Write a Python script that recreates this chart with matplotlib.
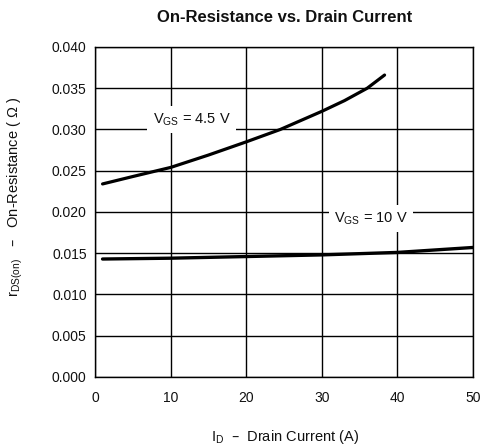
import matplotlib
matplotlib.use("Agg")
import matplotlib.pyplot as plt
import numpy as np

plt.rcParams['font.family'] = ['Liberation Sans', 'DejaVu Sans']
plt.rcParams['mathtext.default'] = 'regular'

# Data
id_45 = [1.0, 5.0, 10.0, 15.0, 20.0, 24.5, 30.0, 33.0, 36.0, 38.3]
r_45 = [0.0234, 0.0243, 0.0254, 0.0269, 0.0285, 0.0300, 0.0322, 0.0335, 0.0350, 0.0366]

id_10 = [1.0, 10.0, 20.0, 30.0, 40.0, 45.0, 50.0]
r_10 = [0.0143, 0.0144, 0.0146, 0.0148, 0.0151, 0.0154, 0.0157]

x_ticks = [0, 10, 20, 30, 40, 50]
y_ticks = [0.000, 0.005, 0.010, 0.015, 0.020, 0.025, 0.030, 0.035, 0.040]
y_ticklabels = ["0.000", "0.005", "0.010", "0.015", "0.020", "0.025", "0.030", "0.035", "0.040"]

TXT = '#111111'

fig = plt.figure(figsize=(4.81, 4.48), dpi=100)
ax = fig.add_axes([0.1975, 0.1585, 0.7859, 0.7366])

ax.plot(id_45, r_45, color='black', lw=2.3, solid_capstyle='round', zorder=4)
ax.plot(id_10, r_10, color='black', lw=2.4, solid_capstyle='round', zorder=4)

ax.set_xlim(0, 50)
ax.set_ylim(0, 0.040)
ax.set_xticks(x_ticks)
ax.set_yticks(y_ticks)
ax.set_yticklabels(y_ticklabels)
ax.grid(True, color='black', lw=1.0)
ax.set_axisbelow(True)
for s in ax.spines.values():
    s.set_color('black')
    s.set_linewidth(1.0)
ax.tick_params(length=0, labelsize=10, colors=TXT, pad=6)
ax.tick_params(axis='x', pad=10)

ax.text(12.8, 0.0312, r'$V_{GS}$ = 4.5 V', ha='center', va='center', fontsize=10.5,
        color=TXT, zorder=5,
        bbox=dict(facecolor='white', edgecolor='none', pad=4))
ax.text(36.5, 0.0192, r'$V_{GS}$ = 10 V', ha='center', va='center', fontsize=10.5,
        color=TXT, zorder=5,
        bbox=dict(facecolor='white', edgecolor='none', pad=4))

fig.text(0.592, 0.962, 'On-Resistance vs. Drain Current', ha='center', va='center',
         fontsize=12, fontweight='bold', color=TXT)
fig.text(0.592, 0.025, r'$I_D$  –  Drain Current (A)', ha='center', va='center',
         fontsize=10.5, color=TXT)
fig.text(0.032, 0.56, r'$r_{DS(on)}$   –   On-Resistance ( Ω )', ha='center', va='center',
         rotation=90, fontsize=10.5, color=TXT)

fig.savefig('out.png', dpi=100)
